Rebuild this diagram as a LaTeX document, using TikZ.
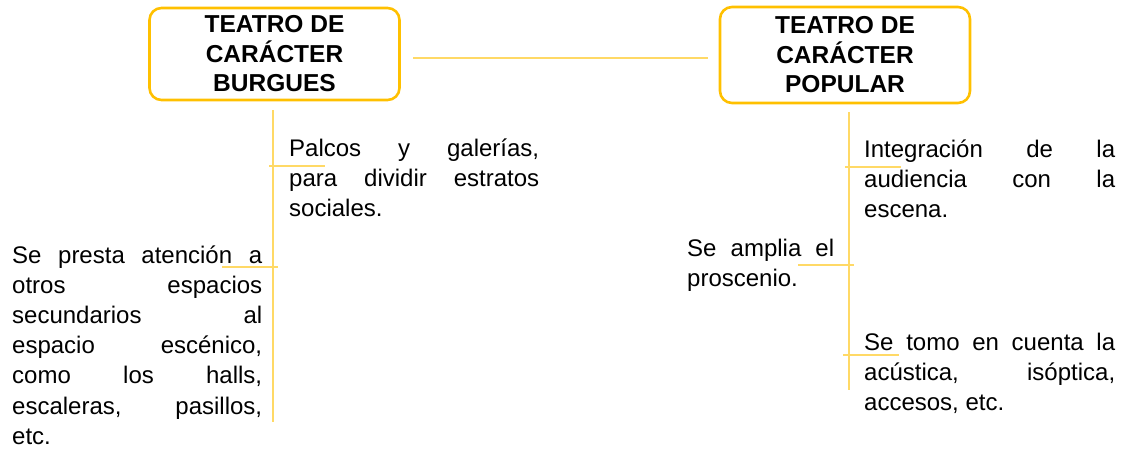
\documentclass[tikz,border=0pt]{standalone}
\usepackage{fontspec}
\setmainfont{Liberation Sans}
\definecolor{boxOrange}{HTML}{FFC000}
\definecolor{lineYellow}{HTML}{FFD966}

\begin{document}
\begin{tikzpicture}
[x=1pt,y=-1pt,%
  titleBox/.style={draw=boxOrange,line width=2.6pt,rounded corners=12pt,minimum width=250pt,
    inner sep=0pt,align=center,font=\fontsize{24.5}{29.5}\selectfont\bfseries},%
  textBlock/.style={anchor=base west,inner sep=0pt,align=justify,
    font=\fontsize{24}{30.2}\selectfont,
    execute at begin node={\tolerance=10000\hyphenpenalty=10000\relax}},%
  lineDecorate/.style={-,draw=lineYellow,line width=1.2pt}]
\useasboundingbox (0,0) rectangle (1130,450);
%% title boxes
\node[titleBox,minimum height=92pt] (burgues) at (274.5,54) {TEATRO DE\\CARÁCTER\\BURGUES};
\node[titleBox,minimum height=96pt] (popular) at (845,55) {TEATRO DE\\CARÁCTER\\POPULAR};
%% text blocks
\node[textBlock,text width=250pt] (palcos) at (289,156)
  {Palcos y galerías,\linebreak para dividir estratos\linebreak sociales.};
\node[textBlock,text width=250pt] (espacios) at (12,263)
  {Se presta atención a\linebreak otros espacios\linebreak secundarios al\linebreak
   espacio escénico,\linebreak como los halls,\linebreak escaleras, pasillos,\linebreak etc.};
\node[textBlock,text width=251pt] (integracion) at (864,157)
  {Integración de la\linebreak audiencia con la\linebreak escena.};
\node[textBlock,text width=147pt] (proscenio) at (687,256)
  {Se amplia el\linebreak proscenio.};
\node[textBlock,text width=251pt] (acustica) at (864,350)
  {Se tomo en cuenta la\linebreak acústica, isóptica,\linebreak accesos, etc.};
%% connector ends
\coordinate (linkA) at (413,58);
\coordinate (linkB) at (708,58);
\coordinate (trunkLtop) at (273,110);
\coordinate (trunkLbot) at (273,422);
\coordinate (trunkRtop) at (849,112);
\coordinate (trunkRbot) at (849,390);
\coordinate (tickPa) at (269,166);
\coordinate (tickPb) at (325,166);
\coordinate (tickEa) at (222,267);
\coordinate (tickEb) at (278,267);
\coordinate (tickIa) at (845,167);
\coordinate (tickIb) at (901,167);
\coordinate (tickSa) at (798,265);
\coordinate (tickSb) at (854,265);
\coordinate (tickAa) at (843,355);
\coordinate (tickAb) at (899,355);
%% connectors
\path
(linkA) edge[lineDecorate] (linkB)
(trunkLtop) edge[lineDecorate] (trunkLbot)
(trunkRtop) edge[lineDecorate] (trunkRbot)
(tickPa) edge[lineDecorate] (tickPb)
(tickEa) edge[lineDecorate] (tickEb)
(tickIa) edge[lineDecorate] (tickIb)
(tickSa) edge[lineDecorate] (tickSb)
(tickAa) edge[lineDecorate] (tickAb);
\end{tikzpicture}
\end{document}
